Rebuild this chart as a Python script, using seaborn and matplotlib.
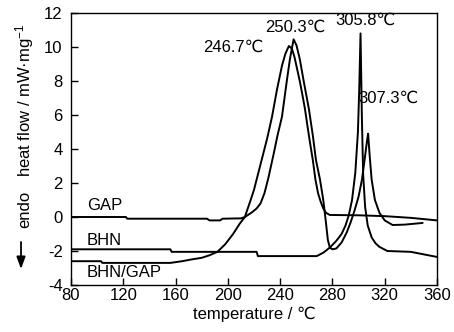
import matplotlib
matplotlib.use("Agg")
import matplotlib.pyplot as plt
import seaborn as sns
import pandas as pd

# DSC traces: temperature (°C) and heat flow (mW/mg)
gap_t = [80, 122, 123, 184, 186, 194, 196, 210, 213, 217, 220, 222, 226, 230, 233.8,
         237.6, 241.4, 244, 246.7, 249, 251, 253, 255, 257, 259, 261, 263, 265, 267,
         269, 271, 273, 275, 278, 300, 320, 340, 360]
gap_hf = [0.0, 0.0, -0.1, -0.1, -0.2, -0.2, -0.1, -0.08, 0.0, 0.9, 1.6, 2.2, 3.4,
          4.6, 5.9, 7.5, 8.9, 9.6, 10.06, 9.9, 9.4, 8.7, 8.0, 7.2, 6.35, 5.3, 4.3,
          3.35, 2.2, 1.4, 0.9, 0.5, 0.25, 0.12, 0.1, 0.05, -0.05, -0.2]

bhn_t = [80, 156, 157, 222, 223, 268, 273, 278, 283, 287, 290, 292.5, 295, 297.5,
         299.5, 300.5, 301.5, 302.5, 303.5, 305, 307, 310, 313, 316, 322, 340, 360]
bhn_hf = [-1.9, -1.9, -2.05, -2.05, -2.3, -2.3, -2.1, -1.8, -1.4, -1.0, -0.5, 0.1,
          1.0, 2.6, 5.0, 7.5, 10.8, 6.0, 2.5, 0.6, -0.5, -1.2, -1.55, -1.76, -2.0,
          -2.05, -2.35]

mix_t = [80, 103, 104, 156, 165, 172, 180, 186, 192, 198, 204, 209, 213, 218,
         222, 225, 228, 231, 235, 238, 241.4, 245.2, 247.5, 249.2, 250.3, 252.5,
         255, 258, 262, 265, 267.4, 270.5, 273, 275, 276.5, 278, 280, 283, 287,
         291, 294, 297, 300, 302.6, 305, 306.5, 307.3, 308.5, 310, 312.5, 316,
         320, 326, 335, 349]
mix_hf = [-2.6, -2.6, -2.7, -2.7, -2.6, -2.5, -2.4, -2.25, -2.05, -1.6, -1.0, -0.4,
          0.0, 0.25, 0.5, 0.8, 1.4, 2.3, 3.7, 4.8, 5.9, 8.06, 9.3, 10.0, 10.45,
          10.1, 9.3, 8.0, 6.35, 4.8, 3.35, 2.2, 1.0, -0.3, -1.35, -1.8, -1.9,
          -1.85, -1.5, -0.9, -0.3, 0.4, 1.2, 2.2, 3.6, 4.5, 4.9, 3.6, 2.2, 1.0,
          0.24, -0.2, -0.47, -0.45, -0.35]

curve_names = ["GAP", "BHN", "BHN/GAP"]
peak_labels = ["246.7℃", "250.3℃", "305.8℃", "307.3℃"]

xticks = [80, 120, 160, 200, 240, 280, 320, 360]
yticks = [-4, -2, 0, 2, 4, 6, 8, 10, 12]

sns.set_theme(style="ticks")
plt.rcParams["font.family"] = ["Liberation Sans", "DejaVu Sans"]
plt.rcParams["mathtext.fontset"] = "custom"
plt.rcParams["mathtext.rm"] = "Liberation Sans"
plt.rcParams["mathtext.it"] = "Liberation Sans"
plt.rcParams["axes.unicode_minus"] = False
plt.rcParams["text.color"] = "black"
plt.rcParams["axes.labelcolor"] = "black"

fig = plt.figure(figsize=(4.54, 3.32), dpi=100)
ax = fig.add_axes([71 / 454, 47 / 332, 366 / 454, 272 / 332])

for t, hf in [(gap_t, gap_hf), (bhn_t, bhn_hf), (mix_t, mix_hf)]:
    df = pd.DataFrame({"T": t, "HF": hf})
    sns.lineplot(data=df, x="T", y="HF", ax=ax, color="black", lw=1.4,
                 sort=False, estimator=None)

ax.set_xlim(80, 360)
ax.set_ylim(-4, 12)
ax.set_xticks(xticks)
ax.set_yticks(yticks)
ax.tick_params(direction="in", length=5, width=1, labelsize=12, colors="black")
ax.tick_params(axis="y", pad=6)
ax.tick_params(axis="x", pad=2)
for s in ax.spines.values():
    s.set_linewidth(1.0)
    s.set_color("black")
ax.set_xlabel("temperature / ℃", fontsize=12, labelpad=3)
ax.set_ylabel("")

# curve names
ax.text(92, 0.65, curve_names[0], fontsize=12, ha="left", va="center")
ax.text(92, -1.41, curve_names[1], fontsize=12, ha="left", va="center")
ax.text(92, -3.24, curve_names[2], fontsize=12, ha="left", va="center")

# peak temperatures
ax.text(227, 10.0, peak_labels[0], fontsize=12, ha="right", va="center")
ax.text(251.5, 11.15, peak_labels[1], fontsize=12, ha="center", va="center")
ax.text(305.0, 11.6, peak_labels[2], fontsize=12, ha="center", va="center")
ax.text(322.5, 7.0, peak_labels[3], fontsize=12, ha="center", va="center")

# y-axis title with endothermic arrow
fig.text(25 / 454, 1 - 100 / 332, "heat flow / mW·mg$^{-1}$", rotation=90,
         ha="center", va="center", fontsize=12)
fig.text(25 / 454, 1 - 209 / 332, "endo", rotation=90, ha="center",
         va="center", fontsize=12)
fig.add_artist(matplotlib.patches.FancyArrowPatch(
    (21 / 454, 1 - 242 / 332), (21 / 454, 1 - 269 / 332),
    transform=fig.transFigure, arrowstyle="-|>,head_length=0.6,head_width=0.22",
    mutation_scale=12, color="black", lw=1.3, shrinkA=0, shrinkB=0))

fig.savefig("out.png", dpi=100)
